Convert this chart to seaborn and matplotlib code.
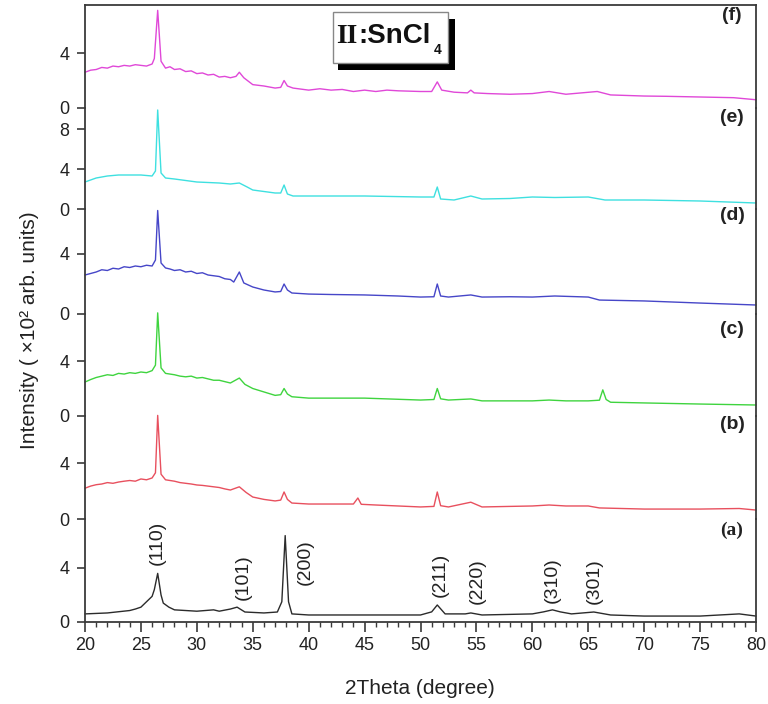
import matplotlib
matplotlib.use("Agg")
import matplotlib.pyplot as plt
import seaborn as sns
from matplotlib.patches import Rectangle
from matplotlib.ticker import MultipleLocator

# ---------------- data ----------------
x_f = [20, 20.5, 21, 21.5, 22, 22.5, 23, 23.5, 24, 24.5, 25, 25.5, 26, 26.2, 26.5, 26.8, 27.2, 27.6, 28, 28.5,
       29, 29.5, 30, 30.5, 31, 31.5, 32, 32.5, 33, 33.5, 33.8, 34.2,
       35, 36, 37, 37.5, 37.8, 38.1, 38.6, 40, 41, 42, 43, 44, 45, 46, 47, 48, 50, 51, 51.5, 51.9, 53, 54.2, 54.5,
       54.8, 56, 58, 60, 61.5, 63, 65.8, 67, 70, 72, 75, 78, 80]
y_f = [2.6, 2.75, 2.8, 2.95, 2.9, 3.05, 3.0, 3.1, 3.05, 3.15, 3.1, 3.05, 3.2, 3.6, 7.1, 3.4, 2.9, 3.0, 2.8, 2.85,
       2.65, 2.7, 2.5, 2.55, 2.4, 2.45, 2.25, 2.3, 2.2, 2.3, 2.6, 2.2,
       1.7, 1.6, 1.45, 1.5, 2.0, 1.6, 1.45, 1.3, 1.4, 1.3, 1.35, 1.2, 1.3, 1.2, 1.3, 1.25, 1.2, 1.2, 1.9, 1.3,
       1.15, 1.1, 1.3, 1.1, 1.05, 1.0, 1.05, 1.2, 1.0, 1.2, 0.95, 0.87, 0.85, 0.8, 0.75, 0.6]

x_e = [20, 21, 22, 23, 24, 25, 26, 26.3, 26.5, 26.8, 27.2, 28, 30, 32, 33, 33.8, 34.5, 35, 36, 37, 37.5,
       37.8, 38.1, 38.6, 40, 45, 50, 51.2, 51.5, 51.8, 53, 54.5, 55.5, 58, 60, 62, 65, 66.5, 70, 75, 80]
y_e = [2.7, 3.1, 3.3, 3.4, 3.4, 3.4, 3.3, 3.8, 9.9, 3.6, 3.1, 3.0, 2.7, 2.6, 2.5, 2.6, 2.2, 1.9, 1.75, 1.6, 1.6,
       2.4, 1.5, 1.3, 1.3, 1.3, 1.2, 1.2, 2.2, 1.0, 0.9, 1.3, 1.0, 1.05, 1.2, 1.15, 1.2, 0.9, 0.9, 0.8, 0.6]

x_d = [20, 20.5, 21, 21.5, 22, 22.5, 23, 23.5, 24, 24.5, 25, 25.5, 26, 26.3, 26.5, 26.8, 27.2, 27.6, 28, 28.5,
       29, 29.5, 30, 30.5, 31, 31.5, 32, 32.5, 33, 33.3, 33.8, 34.2, 35, 36, 37,
       37.5, 37.8, 38.1, 38.5, 40, 42, 45, 48, 50, 51.2, 51.5, 51.8, 52.5, 54.5, 55.5, 58, 60, 62, 65, 66,
       70, 75, 80]
y_d = [2.6, 2.7, 2.8, 2.95, 2.9, 3.05, 3.0, 3.15, 3.1, 3.2, 3.15, 3.25, 3.2, 3.6, 6.9, 3.4, 3.07, 3.0, 2.9, 2.95,
       2.8, 2.85, 2.7, 2.75, 2.6, 2.55, 2.5, 2.35, 2.3, 2.13, 2.8, 2.07, 1.8, 1.6, 1.47,
       1.5, 2.0, 1.6, 1.4, 1.33, 1.3, 1.27, 1.2, 1.13, 1.15, 2.0, 1.2, 1.13, 1.27, 1.13, 1.15, 1.13, 1.2, 1.13,
       0.93, 0.87, 0.73, 0.6]

x_c = [20, 20.5, 21, 21.5, 22, 22.5, 23, 23.5, 24, 24.5, 25, 25.5, 26, 26.3, 26.5, 26.8, 27.2, 27.6, 28, 28.5,
       29, 29.5, 30, 30.5, 31, 31.5, 32, 32.5, 33, 33.8, 34.3, 35, 36, 37, 37.5, 37.8,
       38.1, 38.5, 40, 45, 50, 51.2, 51.5, 51.8, 52.5, 54.5, 55.5, 58, 60, 61.5, 63, 65, 66, 66.3, 66.6, 67,
       70, 75, 80]
y_c = [2.47, 2.65, 2.8, 2.9, 3.0, 2.95, 3.1, 3.05, 3.15, 3.1, 3.2, 3.15, 3.3, 3.7, 7.5, 3.5, 3.1, 3.05, 3.0, 2.9,
       2.85, 2.9, 2.76, 2.8, 2.7, 2.6, 2.6, 2.5, 2.4, 2.76, 2.3, 2.0, 1.75, 1.5, 1.55, 2.0,
       1.6, 1.4, 1.3, 1.3, 1.16, 1.2, 2.0, 1.25, 1.16, 1.24, 1.1, 1.1, 1.1, 1.16, 1.1, 1.1, 1.15, 1.9, 1.2, 1.0,
       0.95, 0.87, 0.8]

x_b = [20, 20.5, 21, 21.5, 22, 22.5, 23, 23.5, 24, 24.5, 25, 25.5, 26, 26.3, 26.5, 26.8, 27.2, 27.6, 28, 28.5,
       29, 29.5, 30, 30.5, 31, 31.5, 32, 32.5, 33, 33.8, 34.4, 35, 36, 37, 37.5, 37.8,
       38.1, 38.5, 40, 42, 44, 44.4, 44.7, 46, 50, 51.2, 51.5, 51.8, 52.5, 54.5, 55.5, 58, 60, 61.5, 63, 65,
       66, 70, 75, 78.5, 80]
y_b = [2.2, 2.35, 2.45, 2.5, 2.6, 2.55, 2.64, 2.7, 2.75, 2.7, 2.86, 2.8, 2.93, 3.3, 7.4, 3.2, 2.8, 2.75, 2.7, 2.6,
       2.55, 2.5, 2.43, 2.4, 2.35, 2.3, 2.25, 2.15, 2.07, 2.3, 1.9, 1.57, 1.4, 1.29, 1.35, 1.93,
       1.4, 1.14, 1.07, 1.07, 1.07, 1.5, 1.05, 1.0, 0.86, 0.9, 1.93, 0.95, 0.86, 1.2, 0.86, 0.9, 0.93, 1.0, 0.93,
       0.93, 0.79, 0.71, 0.71, 0.75, 0.64]

x_a = [20, 22, 24, 24.5, 25, 25.5, 26.0, 26.2, 26.5, 26.8, 27.0, 27.5, 28, 30, 31.5, 32, 33, 33.6, 34.3, 36,
       37.2, 37.6, 37.9, 38.2, 38.5, 40, 45, 50, 51.0, 51.5, 52.2, 54, 54.5, 55.5, 60, 61.0, 61.8, 62.5, 63.5,
       65.5, 67, 70, 75, 78.5, 80]
y_a = [0.6, 0.67, 0.85, 0.96, 1.1, 1.5, 1.9, 2.4, 3.6, 2.0, 1.4, 1.1, 0.9, 0.8, 0.9, 0.8, 0.96, 1.1, 0.74, 0.67,
       0.74, 1.5, 6.4, 1.5, 0.6, 0.52, 0.52, 0.52, 0.75, 1.26, 0.6, 0.6, 0.67, 0.52, 0.6, 0.75, 0.9, 0.75, 0.6,
       0.74, 0.52, 0.44, 0.44, 0.6, 0.44]

panel_labels = ["(a)", "(b)", "(c)", "(d)", "(e)", "(f)"]
peak_labels = ["(110)", "(101)", "(200)", "(211)", "(220)", "(310)", "(301)"]
peak_x = [26.45, 34.15, 39.7, 51.8, 55.1, 61.8, 65.5]
peak_y = [5.85, 3.33, 4.44, 3.5, 3.0, 3.1, 3.0]
x_ticks = list(range(20, 81, 5))
title_main = ":SnCl"
title_roman = "II"
title_sub = "4"
x_label = "2Theta (degree)"
y_label = "Intensity ( \u00d710\u00b2 arb. units)"

# ---------------- styling ----------------
sns.set_style("ticks")
plt.rcParams["font.family"] = ["Liberation Sans", "DejaVu Sans"]

W, H = 768, 704
fig = plt.figure(figsize=(W / 100, H / 100), dpi=100)
fig.patch.set_facecolor("white")

left_px, right_px = 85, 756
spine_col = "#3a3a3a"

# (x, y, color, top_px, bottom_px, px_per_unit, yticks, label_y_px, label_font)
panels = [
    (x_a, y_a, "#2b2b2b", 519, 622, 13.5, [0, 4], 530, "Liberation Serif"),
    (x_b, y_b, "#e8505e", 416, 519, 14.0, [0, 4], 425, "Liberation Sans"),
    (x_c, y_c, "#3fd43f", 314, 416, 13.75, [0, 4], 330, "Liberation Sans"),
    (x_d, y_d, "#4646c8", 209, 314, 15.0, [0, 4], 215, "Liberation Sans"),
    (x_e, y_e, "#3ee0e0", 108, 209, 10.0, [0, 4, 8], 118, "Liberation Sans"),
    (x_f, y_f, "#e048d8", 5, 108, 13.75, [0, 4], 15, "Liberation Sans"),
]

for i, (xs, ys, col, top, bot, scale, yt, ly, lfont) in enumerate(panels):
    ax = fig.add_axes([left_px / W, 1 - bot / H, (right_px - left_px) / W, (bot - top) / H])
    ax.patch.set_alpha(0)
    sns.lineplot(x=xs, y=ys, ax=ax, color=col, linewidth=1.0, estimator=None, sort=False)
    for ln in ax.lines:
        ln.set_clip_on(False)
    ax.set_xlim(20, 80)
    ax.set_ylim(0, (bot - top) / scale)
    ax.set_yticks(yt)
    ax.set_yticklabels([str(v) for v in yt])
    ax.set_xlabel("")
    ax.set_ylabel("")
    ax.tick_params(axis="y", direction="out", length=6, width=1.2, colors=spine_col,
                   labelcolor="#222222", labelsize=13, pad=5)
    for s in ["left", "right"]:
        ax.spines[s].set_visible(True)
        ax.spines[s].set_color(spine_col)
        ax.spines[s].set_linewidth(1.3)
    ax.spines["top"].set_visible(i == len(panels) - 1)
    ax.spines["bottom"].set_visible(i == 0)
    for s in ["top", "bottom"]:
        ax.spines[s].set_color(spine_col)
        ax.spines[s].set_linewidth(1.3)
    if i == 0:
        ax.set_xticks(x_ticks)
        ax.set_xticklabels([str(v) for v in x_ticks])
        ax.xaxis.set_minor_locator(MultipleLocator(1))
        ax.tick_params(axis="x", which="major", direction="out", length=7, width=1.2,
                       colors=spine_col, labelcolor="#222222", labelsize=13, pad=4)
        ax.tick_params(axis="x", which="minor", direction="out", length=3.5, width=1.0,
                       colors=spine_col)
        for lab, px_, py_ in zip(peak_labels, peak_x, peak_y):
            ax.text(px_, py_, lab, rotation=90, ha="center", va="center",
                    fontsize=14, color="#222222")
    else:
        ax.tick_params(axis="x", which="both", bottom=False, labelbottom=False)
    fig.text(732 / W, 1 - ly / H, panel_labels[i], ha="center", va="center",
             fontsize=14, fontweight="bold", color="#222222", family=[lfont, "DejaVu Sans"])

# axis labels
fig.text(420 / W, 1 - 688 / H, x_label, ha="center", va="center", fontsize=15, color="#222222")
fig.text(30 / W, 1 - 330 / H, y_label, ha="center", va="center", rotation=90,
         fontsize=15, color="#222222")

# title box with shadow
fig.add_artist(Rectangle((338 / W, 1 - 70 / H), (455 - 338) / W, (70 - 19) / H,
                         transform=fig.transFigure, facecolor="black", edgecolor="none", zorder=5))
fig.add_artist(Rectangle((333 / W, 1 - 63 / H), (448 - 333) / W, (63 - 12) / H,
                         transform=fig.transFigure, facecolor="white", edgecolor="#888888",
                         linewidth=1.0, zorder=6))
fig.text(336 / W, 1 - 43 / H, title_roman, ha="left", va="baseline", fontsize=20,
         fontweight="bold", family=["Liberation Serif", "DejaVu Serif"], color="#111111", zorder=7)
fig.text(358 / W, 1 - 43 / H, title_main, ha="left", va="baseline", fontsize=20,
         fontweight="bold", color="#111111", zorder=7)
fig.text(434 / W, 1 - 54 / H, title_sub, ha="left", va="baseline", fontsize=10,
         fontweight="bold", color="#111111", zorder=7)

fig.savefig("out.png", dpi=100, facecolor="white")
